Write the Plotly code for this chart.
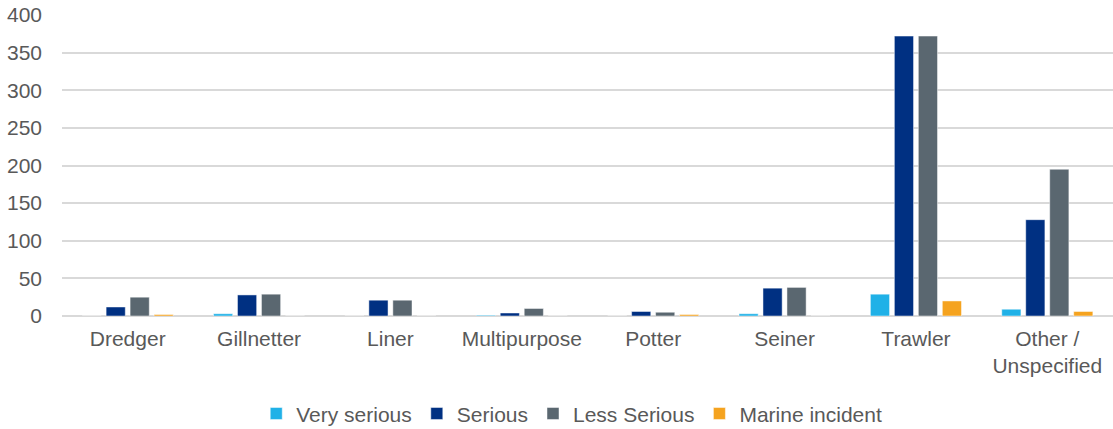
import plotly.graph_objects as go

categories = ["Dredger", "Gillnetter", "Liner", "Multipurpose", "Potter", "Seiner", "Trawler", "Other /<br>Unspecified"]
very_serious = [0, 3, 0, 1, 0, 3, 29, 9]
serious = [12, 28, 21, 4, 6, 37, 372, 128]
less_serious = [25, 29, 21, 10, 5, 38, 372, 195]
marine_incident = [2, 0, 0, 0, 2, 0, 20, 6]

series = [
    ("Very serious", very_serious, "#20B1E7"),
    ("Serious", serious, "#003082"),
    ("Less Serious", less_serious, "#5A6770"),
    ("Marine incident", marine_incident, "#F5A31F"),
]

fig = go.Figure()
for name, vals, color in series:
    fig.add_trace(go.Bar(
        x=categories, y=vals, name=name,
        marker=dict(color=color, line=dict(color="rgba(255,255,255,0.6)", width=0.8)),
    ))

fig.update_layout(
    width=1113, height=429,
    margin=dict(l=62, r=0, t=15, b=113, autoexpand=False),
    paper_bgcolor="white", plot_bgcolor="white",
    barmode="group", bargap=0.27, bargroupgap=0.2,
    font=dict(family="Liberation Sans, Arial, sans-serif", size=21, color="#595959"),
    legend=dict(orientation="h", x=0.485, xanchor="center", y=-0.325, yanchor="middle",
                font=dict(size=21, color="#595959"), itemwidth=30, traceorder="normal"),
    xaxis=dict(showgrid=False, showline=False, ticks="", tickfont=dict(size=21),
               ticklabelstandoff=8, automargin=False),
    yaxis=dict(range=[0, 400], dtick=50, showgrid=True, gridcolor="#D9D9D9", gridwidth=1.5,
               zeroline=True, zerolinecolor="#D9D9D9", zerolinewidth=1.5,
               ticks="", tickfont=dict(size=21), ticklabelstandoff=19,
               ticklabeloverflow="allow", automargin=False),
)

fig.write_html("out.html", config={"displayModeBar": False},
               post_script="document.body.style.margin='0';")
